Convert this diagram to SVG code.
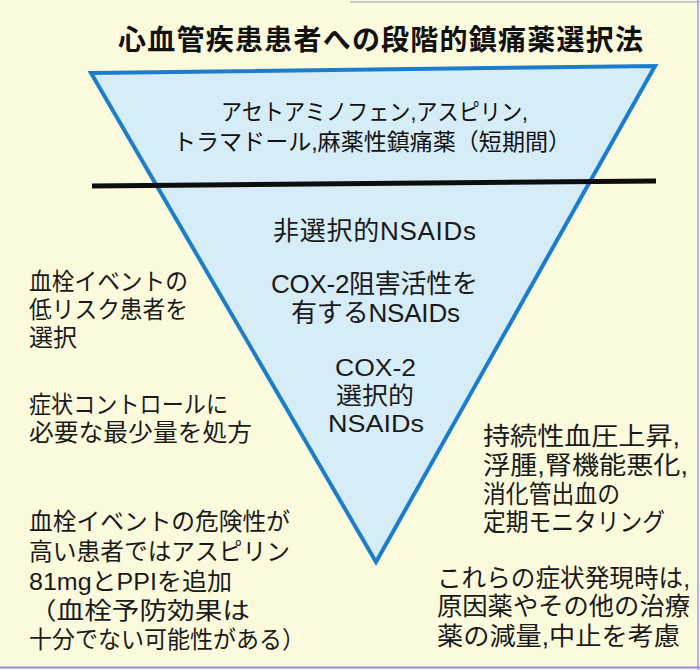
<svg xmlns="http://www.w3.org/2000/svg" width="700" height="670" viewBox="0 0 700 670">
  <style>
    .t { font-family: "Liberation Sans", "Noto Sans CJK JP", sans-serif; fill: #1a1a1a; }
    .title { font-family: "Noto Sans CJK JP", sans-serif; font-weight: 700; font-size: 28px; fill: #111; }
    .top { font-size: 23px; fill: #111; }
    .mid { font-size: 26px; }
    .mid2 { font-size: 24px; }
    .side { font-size: 24px; }
    .right { font-size: 25px; }
  </style>
  <rect x="0" y="0" width="700" height="670" fill="#fcfadd"/>
  <line x1="350" y1="2" x2="700" y2="2" stroke="#b8b8c0" stroke-width="1.5"/>
  <line x1="698" y1="0" x2="698" y2="670" stroke="#9c9ce0" stroke-width="1.5"/>
  <line x1="0" y1="667.5" x2="700" y2="667.5" stroke="#8f8fe0" stroke-width="2"/>

  <g id="title">
    <text class="title" x="118" y="50" textLength="525">心血管疾患患者への段階的鎮痛薬選択法</text>
  </g>

  <g id="triangle">
    <polygon points="91,73 655,66 376,562" fill="#d6ecf6" stroke="#1b7dcc" stroke-width="4" stroke-linejoin="miter"/>
  </g>

  <g id="connectors">
    <line x1="92" y1="186" x2="656" y2="181" stroke="#0d0d0d" stroke-width="5"/>
  </g>

  <g id="top-tier">
    <text class="t top" x="221" y="120" textLength="307" lengthAdjust="spacingAndGlyphs">アセトアミノフェン,アスピリン,</text>
    <text class="t top" x="173" y="150" textLength="398" lengthAdjust="spacingAndGlyphs">トラマドール,麻薬性鎮痛薬（短期間）</text>
  </g>

  <g id="nonselective">
    <text class="t mid" x="273" y="240" textLength="203">非選択的NSAIDs</text>
  </g>

  <g id="cox2-inhibiting">
    <text class="t mid" x="271" y="293" textLength="207">COX-2阻害活性を</text>
    <text class="t mid" x="291" y="322" textLength="169">有するNSAIDs</text>
  </g>

  <g id="cox2-selective">
    <text class="t mid2" x="335" y="376" textLength="81" lengthAdjust="spacingAndGlyphs">COX-2</text>
    <text class="t mid2" x="336" y="404" textLength="78" lengthAdjust="spacingAndGlyphs">選択的</text>
    <text class="t mid2" x="328" y="432" textLength="96" lengthAdjust="spacingAndGlyphs">NSAIDs</text>
  </g>

  <g id="note-low-risk">
    <text class="t side" x="29" y="290" textLength="159" lengthAdjust="spacingAndGlyphs">血栓イベントの</text>
    <text class="t side" x="29" y="318" textLength="159" lengthAdjust="spacingAndGlyphs">低リスク患者を</text>
    <text class="t side" x="29" y="346">選択</text>
  </g>

  <g id="note-minimum">
    <text class="t side" x="29" y="413" textLength="199" lengthAdjust="spacingAndGlyphs">症状コントロールに</text>
    <text class="t side" x="29" y="441" textLength="223" lengthAdjust="spacingAndGlyphs">必要な最少量を処方</text>
  </g>

  <g id="note-high-risk">
    <text class="t side" x="29" y="530" textLength="261" lengthAdjust="spacingAndGlyphs">血栓イベントの危険性が</text>
    <text class="t side" x="29" y="560" textLength="261" lengthAdjust="spacingAndGlyphs">高い患者ではアスピリン</text>
    <text class="t side" x="29" y="590" textLength="203" lengthAdjust="spacingAndGlyphs">81mgとPPIを追加</text>
    <text class="t side" x="29" y="619" textLength="221" lengthAdjust="spacingAndGlyphs">（血栓予防効果は</text>
    <text class="t side" x="29" y="648" textLength="276" lengthAdjust="spacingAndGlyphs">十分でない可能性がある）</text>
  </g>

  <g id="note-monitoring">
    <text class="t right" x="483" y="445" textLength="197" lengthAdjust="spacingAndGlyphs">持続性血圧上昇,</text>
    <text class="t right" x="483" y="474" textLength="205" lengthAdjust="spacingAndGlyphs">浮腫,腎機能悪化,</text>
    <text class="t right" x="483" y="503" textLength="137" lengthAdjust="spacingAndGlyphs">消化管出血の</text>
    <text class="t right" x="483" y="531" textLength="182" lengthAdjust="spacingAndGlyphs">定期モニタリング</text>
  </g>

  <g id="note-action">
    <text class="t right" x="437" y="587" textLength="253" lengthAdjust="spacingAndGlyphs">これらの症状発現時は,</text>
    <text class="t right" x="437" y="615" textLength="253" lengthAdjust="spacingAndGlyphs">原因薬やその他の治療</text>
    <text class="t right" x="437" y="645" textLength="243" lengthAdjust="spacingAndGlyphs">薬の減量,中止を考慮</text>
  </g>
</svg>
